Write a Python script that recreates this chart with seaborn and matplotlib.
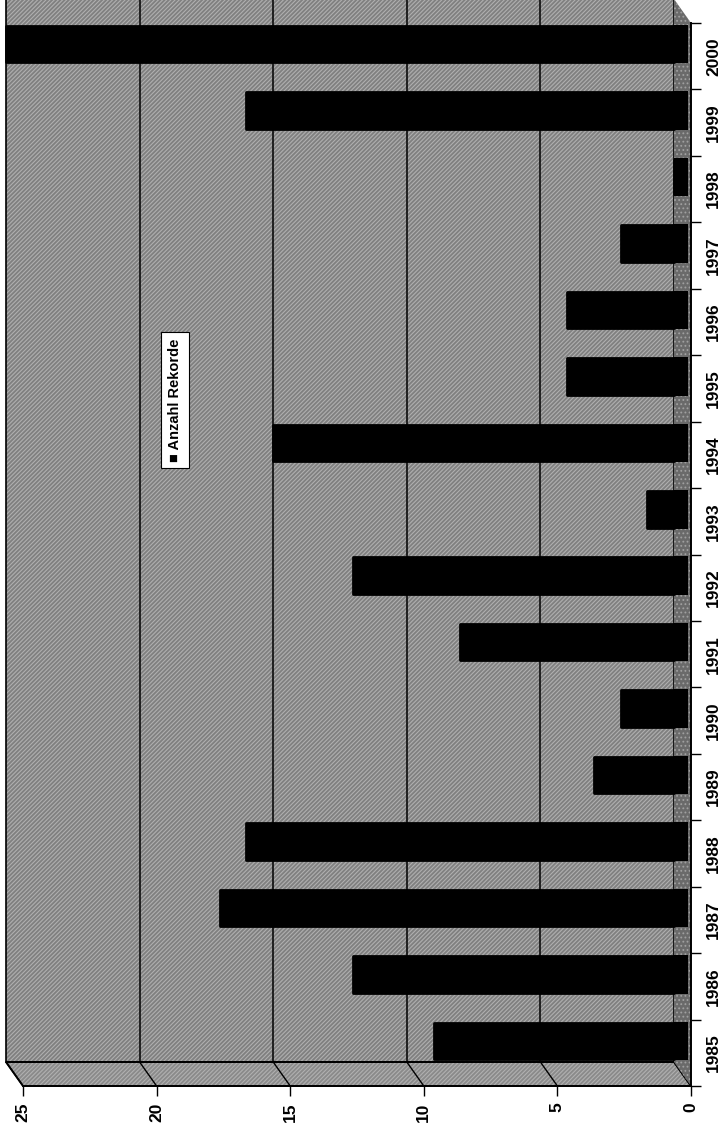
import numpy as np
import pandas as pd
import matplotlib
matplotlib.use("Agg")
import matplotlib.pyplot as plt
import seaborn as sns
from matplotlib.patches import Polygon, Rectangle
from matplotlib.transforms import ScaledTranslation, IdentityTransform

# --- data -------------------------------------------------------------
years = [1985, 1986, 1987, 1988, 1989, 1990, 1991, 1992,
         1993, 1994, 1995, 1996, 1997, 1998, 1999, 2000]
records = [9, 12, 17, 16, 3, 2, 8, 12, 1, 15, 4, 4, 2, 0, 16, 25]
value_ticks = [0, 5, 10, 15, 20, 25]
series_label = "Anzahl Rekorde"

# --- style ------------------------------------------------------------
sns.set_theme(style="white")
plt.rcParams["font.family"] = ["Liberation Sans", "DejaVu Sans"]
plt.rcParams["hatch.linewidth"] = 0.8

DPI = 100
W, H = 727, 1127
fig = plt.figure(figsize=(W / DPI, H / DPI), dpi=DPI)
fig.patch.set_facecolor("white")

# front frame of the 3-D box (floor front edge / right side front edge)
ax = fig.add_axes([23 / W, 41 / H, 668 / W, 1063 / H])
ax.set_facecolor("none")

df = pd.DataFrame({"Jahr": [str(y) for y in years], "Rekorde": records})
order = [str(y) for y in years[::-1]]
sns.barplot(data=df, x="Rekorde", y="Jahr", order=order, orient="h",
            color="black", saturation=1, width=0.55, ax=ax, zorder=4,
            edgecolor="black", linewidth=2)

n = len(years)
ax.set_xlim(25, 0)
ax.set_ylim(n - 0.5, -0.5)

# depth of the 3-D box in pixels (back wall is up-left of the front frame)
DX, DY = -17, 24
back = ScaledTranslation(DX / DPI, DY / DPI, fig.dpi_scale_trans)
mid = ScaledTranslation(DX / DPI, DY / 2 / DPI, fig.dpi_scale_trans)

wall_face = "#808080"
wall_hatch = "#b0b0b0"

# back wall
ax.add_patch(Rectangle((0, -0.5), 25, n, transform=ax.transData + back,
                       facecolor=wall_face, edgecolor=wall_hatch, hatch="////////",
                       lw=0, clip_on=False, zorder=0))
ax.add_patch(Rectangle((0, -0.5), 25, n, transform=ax.transData + back,
                       facecolor="none", edgecolor="black", lw=1.2,
                       clip_on=False, zorder=1))
for v in value_ticks[1:-1]:
    ax.plot([v, v], [-0.5, n - 0.5], transform=ax.transData + back,
            color="black", lw=1.1, clip_on=False, zorder=1)

to_px = ax.transData.transform

# floor
fl, fr = to_px([(25, n - 0.5), (0, n - 0.5)])
bl, br = fl + [DX, DY], fr + [DX, DY]
ax.add_patch(Polygon([bl, br, fr, fl], closed=True, transform=IdentityTransform(),
                     facecolor="#8a8a8a", edgecolor=wall_hatch, hatch="////////",
                     lw=0, clip_on=False, zorder=0))
ax.add_patch(Polygon([bl, br, fr, fl], closed=True, transform=IdentityTransform(),
                     facecolor="none", edgecolor="black", lw=1.4,
                     clip_on=False, zorder=1))
for v in value_ticks:
    f = to_px([(v, n - 0.5)])[0]
    ax.plot([f[0] + DX, f[0]], [f[1] + DY, f[1]], transform=IdentityTransform(),
            color="black", lw=1.0, clip_on=False, zorder=1)

# right side wall
st, sb = to_px([(0, -0.5), (0, n - 0.5)])
ax.add_patch(Polygon([st + [DX, DY], sb + [DX, DY], sb, st], closed=True,
                     transform=IdentityTransform(), facecolor="#6a6a6a",
                     edgecolor="#a0a0a0", hatch="....", lw=0,
                     clip_on=False, zorder=2))

# bars sit half-way into the box; their bases run through the side wall
for bar in ax.patches:
    if isinstance(bar, Rectangle) and bar.get_zorder() == 4:
        bar.set_transform(ax.transData + mid)
        bar.set_joinstyle("round")
        bar.set_clip_on(False)
half = 0.55 / 2
for i in range(n):
    top, bot = to_px([(0, i - half), (0, i + half)])
    ax.add_patch(Rectangle((top[0] + DX, bot[1] + DY / 2 - 1), -DX - 3, top[1] - bot[1] + 2,
                           transform=IdentityTransform(), facecolor="black",
                           lw=0, clip_on=False, zorder=5))

# axes / ticks
for s in ("left", "top"):
    ax.spines[s].set_visible(False)
for s in ("right", "bottom"):
    ax.spines[s].set_visible(True)
    ax.spines[s].set_color("black")
    ax.spines[s].set_linewidth(1.4)

ax.set_xticks(value_ticks)
ax.set_xticklabels([str(v) for v in value_ticks])
ax.tick_params(axis="x", bottom=True, length=7, width=1, color="black",
               pad=5, labelsize=12.5, labelrotation=90, labelcolor="black")
for lab in ax.get_xticklabels():
    lab.set_fontweight("bold")

ax.yaxis.tick_right()
ax.set_yticks(np.arange(-0.5, n, 1.0), minor=True)
ax.tick_params(axis="y", which="major", left=False, right=False, length=0,
               pad=11, labelsize=12.5, labelcolor="black")
ax.tick_params(axis="y", which="minor", left=False, right=True, length=7,
               width=1, color="black")
for lab in ax.get_yticklabels():
    lab.set_rotation(90)
    lab.set_va("center")
    lab.set_fontweight("bold")
ax.set_xlabel("")
ax.set_ylabel("")
ax.grid(False)

# legend box
fig.text(175 / W, 1 - 400 / H, "\u25A0 " + series_label, rotation=90,
         ha="center", va="center", fontsize=10.5, fontweight="bold", color="black",
         bbox=dict(boxstyle="square,pad=0.45", facecolor="white",
                   edgecolor="black", lw=0.8))

fig.savefig("out.png", dpi=DPI)
